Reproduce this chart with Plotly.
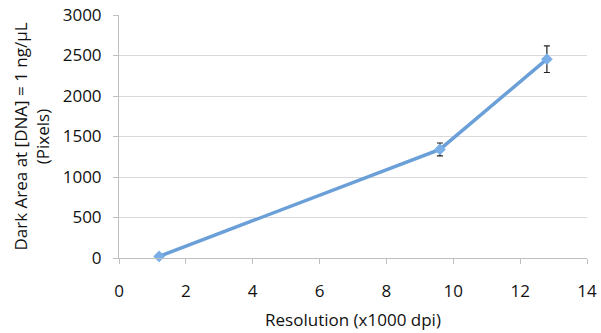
import plotly.graph_objects as go

resolution = [1.2, 9.6, 12.8]
dark_area = [20, 1340, 2455]
error = [10, 80, 165]

x_ticks = [0, 2, 4, 6, 8, 10, 12, 14]
y_ticks = [0, 500, 1000, 1500, 2000, 2500, 3000]

font = "Open Sans, Liberation Sans, sans-serif"

fig = go.Figure()
fig.add_trace(go.Scatter(
    x=resolution, y=dark_area,
    mode="lines+markers",
    line=dict(color="#6a9fd8", width=3.5),
    marker=dict(symbol="diamond", size=9, color="#7aaee6"),
    error_y=dict(type="data", array=error, visible=True, color="#222222", thickness=1.2, width=3),
    showlegend=False,
    cliponaxis=False,
))

fig.update_layout(
    width=601, height=333,
    margin=dict(l=119, r=14, t=15, b=75),
    paper_bgcolor="white", plot_bgcolor="white",
    font=dict(family=font, size=17, color="#111111"),
    xaxis=dict(
        range=[0, 14], tickvals=x_ticks, showgrid=False,
        showline=True, linecolor="#bfbfbf", linewidth=1,
        ticks="outside", ticklen=5, tickcolor="#bfbfbf",
        ticklabelstandoff=13,
        zeroline=False, automargin=False,
        title=dict(text="Resolution (x1000 dpi)", standoff=12, font=dict(size=17)),
        fixedrange=True,
    ),
    yaxis=dict(
        range=[0, 3000], tickvals=y_ticks, showgrid=True, gridcolor="#d9d9d9",
        showline=True, linecolor="#bfbfbf", linewidth=1,
        ticks="outside", ticklen=5, tickcolor="#bfbfbf",
        ticklabelstandoff=8,
        zeroline=False, automargin=False,
        title=dict(text="Dark Area at [DNA] = 1 ng/µL<br>(Pixels)", standoff=8, font=dict(size=17)),
        fixedrange=True,
    ),
)

fig.write_html(
    "out.html",
    config={"displayModeBar": False},
    post_script="document.body.style.margin='0';document.body.style.overflow='hidden';",
)
